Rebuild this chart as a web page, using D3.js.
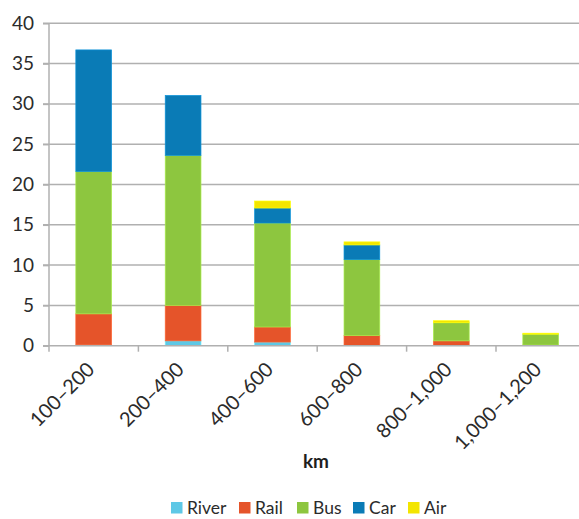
<!DOCTYPE html>
<html>
<head>
<meta charset="utf-8">
<script src="https://cdn.jsdelivr.net/npm/d3@7"></script>
<style>
  html, body { margin: 0; padding: 0; background: #fff; }
  svg { display: block; font-family: Lato, "Open Sans", sans-serif; }
</style>
</head>
<body>
<svg id="chart" width="579" height="519"></svg>
<script>
// Trip distance bands and passenger share by mode
const categories = ["100–200", "200–400", "400–600", "600–800", "800–1,000", "1,000–1,200"];
const modes = ["River", "Rail", "Bus", "Car", "Air"];
const river = [0.1, 0.6, 0.45, 0.05, 0.05, 0.03];
const rail  = [3.85, 4.4, 1.87, 1.2, 0.55, 0.05];
const bus   = [17.65, 18.6, 12.9, 9.43, 2.25, 1.35];
const car   = [15.1, 7.45, 1.86, 1.82, 0.0, 0.0];
const air   = [0.0, 0.0, 0.87, 0.38, 0.25, 0.12];
const yTicks = [0, 5, 10, 15, 20, 25, 30, 35, 40];
const colors = ["#5ec8e6", "#e5542a", "#8dc63f", "#0a7bb6", "#f3e500"];

const rows = categories.map((c, i) => ({
  cat: c, River: river[i], Rail: rail[i], Bus: bus[i], Car: car[i], Air: air[i]
}));

const svg = d3.select("#chart");
const plotLeft = 49, plotRight = 585.4, plotTop = 23.3, plotBottom = 345.7;
const textColor = "#2b2b2b";

const y = d3.scaleLinear().domain([0, 40]).range([plotBottom, plotTop]);
const xBand = d3.scaleBand().domain(categories).range([plotLeft, plotRight])
  .paddingInner(0.6).paddingOuter(0.3);
const xStep = d3.scaleBand().domain(categories).range([plotLeft, plotRight]).padding(0);

const grey = "#b0b0b0";

// horizontal gridlines with short ticks left of the axis
svg.append("g").selectAll("line").data(yTicks.filter(d => d > 0)).join("line")
  .attr("x1", plotLeft - 6).attr("x2", 579)
  .attr("y1", d => y(d)).attr("y2", d => y(d))
  .attr("stroke", grey).attr("stroke-width", 1.5);

// y axis labels
const yAxis = d3.axisLeft(y).tickValues(yTicks).tickSize(6).tickPadding(9).tickFormat(d3.format("d"));
const gy = svg.append("g").attr("transform", `translate(${plotLeft},0)`).call(yAxis);
gy.select(".domain").attr("stroke", grey).attr("stroke-width", 1.5).attr("d", `M0,${plotTop}V${plotBottom}`);
gy.selectAll(".tick line").attr("stroke", grey).attr("stroke-width", 1.5);
gy.selectAll(".tick text").attr("fill", textColor).style("font-size", "19px")
  .style("font-family", "Lato, 'Open Sans', sans-serif");

// stacked bars
const stack = d3.stack().keys(modes)(rows);
svg.append("g").selectAll("g").data(stack).join("g")
  .attr("fill", (d, i) => colors[i])
  .attr("stroke", (d, i) => d3.color(colors[i]).brighter(0.5))
  .attr("stroke-width", 0.7)
  .selectAll("rect").data(d => d.filter(s => s[1] - s[0] > 0)).join("rect")
  .attr("x", d => xBand(d.data.cat))
  .attr("width", xBand.bandwidth())
  .attr("y", d => y(d[1]))
  .attr("height", d => Math.max(0, y(d[0]) - y(d[1])));

// baseline and category boundary ticks
svg.append("line").attr("x1", plotLeft - 6).attr("x2", 579)
  .attr("y1", plotBottom).attr("y2", plotBottom).attr("stroke", grey).attr("stroke-width", 1.5);
const bounds = categories.map(c => xStep(c)).concat([plotRight]);
svg.append("g").selectAll("line").data(bounds).join("line")
  .attr("x1", d => d).attr("x2", d => d)
  .attr("y1", plotBottom).attr("y2", plotBottom + 6)
  .attr("stroke", grey).attr("stroke-width", 1.5);

// rotated category labels
svg.append("g").selectAll("text").data(categories).join("text")
  .attr("transform", c => `translate(${xStep(c) + xStep.bandwidth() / 2 + 2},${plotBottom + 25}) rotate(-45)`)
  .attr("text-anchor", "end")
  .attr("fill", textColor).style("font-size", "20px")
  .text(c => c);

// axis title
svg.append("text").attr("x", 316).attr("y", 468).attr("text-anchor", "middle")
  .attr("fill", "#1e1e1e").style("font-size", "19px").style("font-weight", "bold")
  .text("km");

// legend
const legendX = [171, 239, 297, 353, 408];
const lg = svg.append("g").selectAll("g").data(modes).join("g")
  .attr("transform", (d, i) => `translate(${legendX[i]},502)`);
lg.append("rect").attr("width", 11.5).attr("height", 11.5).attr("fill", (d, i) => colors[i]);
lg.append("text").attr("x", 16).attr("y", 6).attr("dy", "0.35em")
  .attr("fill", textColor).style("font-size", "17.5px").text(d => d);
</script>
</body>
</html>
